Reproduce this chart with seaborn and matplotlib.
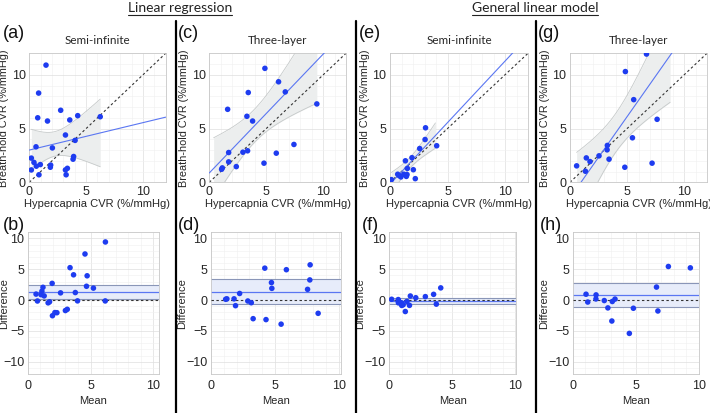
import numpy as np
import pandas as pd
import matplotlib
matplotlib.use("Agg")
import matplotlib.pyplot as plt
from matplotlib.lines import Line2D
from matplotlib.ticker import MultipleLocator, FixedLocator
import seaborn as sns

# ---------------- data ----------------
# hypercapnia CVR (x) and breath-hold CVR (y), %/mmHg
a_hc = [1.47, 0.82, 0.74, 1.60, 2.76, 3.56, 4.26, 6.24, 3.18, 4.03, 0.59, 2.03, 0.18,
        0.41, 0.62, 0.97, 1.88, 1.85, 3.90, 3.85, 3.18, 3.35, 3.24, 0.85, 0.18]
a_bh = [10.9, 8.3, 6.0, 5.7, 6.7, 5.8, 6.2, 6.1, 4.4, 3.9, 3.3, 3.2, 2.25,
        1.85, 1.5, 1.65, 1.6, 1.4, 2.4, 2.15, 1.15, 1.3, 0.7, 0.7, 1.15]

c_hc = [4.88, 6.08, 3.42, 6.67, 1.61, 9.44, 3.30, 3.80, 7.43, 5.88, 1.70, 2.95,
        3.36, 1.70, 2.37, 4.80, 1.14, 1.08]
c_bh = [10.6, 9.35, 8.35, 8.41, 6.79, 7.29, 6.14, 5.70, 3.52, 2.71, 2.77, 2.80,
        2.93, 1.90, 1.46, 1.78, 1.34, 1.21]

e_hc = [0.12, 0.67, 0.80, 0.95, 1.20, 1.42, 1.48, 2.20, 1.51, 2.03, 1.34, 1.91,
        2.58, 3.05, 4.06, 3.09]
e_bh = [0.25, 0.75, 0.62, 0.50, 0.75, 0.55, 0.72, 0.34, 1.29, 1.17, 2.00, 2.29,
        3.14, 3.98, 3.40, 5.07]

g_hc = [6.70, 4.85, 5.58, 7.63, 5.47, 3.27, 3.25, 2.54, 3.42, 1.43, 1.75, 0.58,
        1.35, 4.80, 7.19]
g_bh = [11.93, 10.3, 7.69, 5.86, 4.14, 3.43, 3.02, 2.46, 2.15, 2.27, 1.93, 1.53,
        1.03, 1.40, 1.78]

titles = ["Semi-infinite", "Three-layer", "Semi-infinite", "Three-layer"]
top_labels = ["(a)", "(c)", "(e)", "(g)"]
bottom_labels = ["(b)", "(d)", "(f)", "(h)"]
headers = ["Linear regression", "General linear model"]

# fitted lines (intercept, slope) and x-range of their confidence bands
fit_intercept = [3.0, 0.87, -0.17, -1.45]
fit_slope = [0.255, 1.106, 1.144, 1.511]
band_lo_x = [0.18, 0.38, 0.12, 0.58]
band_hi_x = [6.24, 9.44, 3.95, 8.77]

# Bland-Altman: bias and its confidence interval
ba_bias = [1.25, 1.35, -0.10, 0.75]
ba_lo = [0.10, -0.60, -0.60, -1.20]
ba_hi = [2.45, 3.35, 0.30, 2.80]
ba_xmax = [10.45, 10.15, 10.05, 10.0]

hc_sets = [a_hc, c_hc, e_hc, g_hc]
bh_sets = [a_bh, c_bh, e_bh, g_bh]

# ---------------- style ----------------
sns.set_theme(style="white")
plt.rcParams['font.family'] = ['Liberation Sans', 'DejaVu Sans']
plt.rcParams['axes.unicode_minus'] = True

W, H = 710, 413
fig = plt.figure(figsize=(W / 100, H / 100), dpi=100)

PT_BLUE = '#1e3cf0'
LINE_BLUE = '#5a76f2'
TXT = '#262626'

def px_rect(l, t, r, b):
    return [l / W, 1 - b / H, (r - l) / W, (b - t) / H]

top_rects = [px_rect(29.3, 53.3, 165.7, 182.3), px_rect(209.3, 53.3, 346.0, 182.3),
             px_rect(390.0, 53.3, 528.0, 182.3), px_rect(570.0, 53.3, 707.0, 182.3)]
bot_rects = [px_rect(27.7, 232.3, 159.0, 374.0), px_rect(211.0, 232.3, 341.0, 374.0),
             px_rect(389.3, 232.3, 516.0, 374.0), px_rect(572.7, 232.3, 699.0, 374.0)]

def style_axes(ax):
    for sp in ax.spines.values():
        sp.set_color('#c8c8c8')
        sp.set_linewidth(0.6)
    ax.tick_params(length=0, labelsize=9, pad=2.5, colors=TXT)
    ax.grid(True, which='major', color='#dedede', lw=0.5)
    ax.grid(True, which='minor', color='#f0f0f0', lw=0.4)
    ax.set_axisbelow(True)

t_val = 2.1
for i in range(4):
    hc = np.array(hc_sets[i]); bh = np.array(bh_sets[i])
    df = pd.DataFrame({'hc': hc, 'bh': bh})

    # ---------- top: scatter with fit ----------
    ax = fig.add_axes(top_rects[i])
    ax.set_xlim(0, 12); ax.set_ylim(0, 12)
    ax.xaxis.set_major_locator(FixedLocator([0, 5, 10]))
    ax.yaxis.set_major_locator(FixedLocator([0, 5, 10]))
    ax.xaxis.set_minor_locator(MultipleLocator(1))
    ax.yaxis.set_minor_locator(MultipleLocator(1))
    style_axes(ax)

    b0, b1 = fit_intercept[i], fit_slope[i]
    n = len(hc)
    resid = bh - (b0 + b1 * hc)
    s = np.sqrt(np.sum(resid ** 2) / (n - 2))
    xbar = hc.mean(); sxx = np.sum((hc - xbar) ** 2)
    xb = np.linspace(band_lo_x[i], band_hi_x[i], 200)
    yb = b0 + b1 * xb
    hw = t_val * s * np.sqrt(1.0 / n + (xb - xbar) ** 2 / sxx)
    ax.fill_between(xb, yb - hw, yb + hw, color='#eceeee', lw=0, zorder=1)
    ax.plot(xb, yb - hw, color='#c6caca', lw=0.6, zorder=1.5)
    ax.plot(xb, yb + hw, color='#c6caca', lw=0.6, zorder=1.5)

    ax.plot([0, 12], [0, 12], color='#333333', lw=0.8, ls=(0, (2.2, 2.2)), zorder=2)
    xl = np.linspace(0, 12, 50)
    ax.plot(xl, b0 + b1 * xl, color=LINE_BLUE, lw=0.8, zorder=3)

    sns.scatterplot(data=df, x='hc', y='bh', ax=ax, color=PT_BLUE, s=16,
                    edgecolor='none', linewidth=0, zorder=4, legend=False, clip_on=True)
    ax.set_xlabel("Hypercapnia CVR (%/mmHg)", fontsize=8, color=TXT, labelpad=1)
    ax.set_ylabel("Breath-hold CVR (%/mmHg)", fontsize=7.8, color=TXT)
    ax.yaxis.set_label_coords(-20 / (top_rects[i][2] * W), 0.5)
    ax.set_title(titles[i], fontsize=8.4, family=['Lato', 'DejaVu Sans'], color=TXT, pad=7)

    # ---------- bottom: Bland-Altman ----------
    bx = fig.add_axes(bot_rects[i])
    ba = pd.DataFrame({'mean': (hc + bh) / 2.0, 'diff': bh - hc})
    bx.set_xlim(0, ba_xmax[i]); bx.set_ylim(-12, 11)
    bx.xaxis.set_major_locator(FixedLocator([0, 5, 10]))
    bx.yaxis.set_major_locator(FixedLocator([-10, -5, 0, 5, 10]))
    bx.xaxis.set_minor_locator(MultipleLocator(1))
    bx.yaxis.set_minor_locator(MultipleLocator(1))
    style_axes(bx)
    bx.axhspan(ba_lo[i], ba_hi[i], color='#e7ecfa', lw=0, zorder=1)
    bx.axhline(ba_lo[i], color='#8a96b8', lw=0.8, zorder=2)
    bx.axhline(ba_hi[i], color='#8a96b8', lw=0.8, zorder=2)
    bx.axhline(ba_bias[i], color=LINE_BLUE, lw=0.9, zorder=2.5)
    bx.axhline(0, color='#333333', lw=0.8, ls=(0, (2.2, 2.2)), zorder=3)
    sns.scatterplot(data=ba, x='mean', y='diff', ax=bx, color=PT_BLUE, s=16,
                    edgecolor='none', linewidth=0, zorder=4, legend=False)
    bx.set_xlabel("Mean", fontsize=8, color=TXT, labelpad=3)
    bx.set_ylabel("Difference", fontsize=8, color=TXT)
    off = 19 if i == 0 else 24
    bx.yaxis.set_label_coords(-off / (bot_rects[i][2] * W), 0.5)
    bx.tick_params(axis='x', pad=4)

# ---------------- panel letters ----------------
top_lx = [3, 178, 359, 538]
bot_lx = [3, 178, 362, 540]
for i in range(4):
    fig.text(top_lx[i] / W, 1 - 34 / H, top_labels[i], fontsize=13, ha='left', va='center', color='#111111')
    fig.text(bot_lx[i] / W, 1 - 225 / H, bottom_labels[i], fontsize=13, ha='left', va='center', color='#111111')

# ---------------- headers with underline ----------------
hdr_x = [180, 535]
fig.canvas.draw()
r = fig.canvas.get_renderer()
for hx, txt in zip(hdr_x, headers):
    t = fig.text(hx / W, 1 - 8.5 / H, txt, fontsize=10, family=['Lato', 'DejaVu Sans'],
                 ha='center', va='center', color='#222222')
    bb = t.get_window_extent(renderer=r)
    fig.add_artist(Line2D([bb.x0 / W, bb.x1 / W], [1 - 15 / H, 1 - 15 / H],
                          transform=fig.transFigure, color='#222222', lw=0.8))

# ---------------- separators ----------------
for sx in [176, 356, 536]:
    fig.add_artist(Line2D([sx / W, sx / W], [0, 1 - 21 / H], transform=fig.transFigure,
                          color='black', lw=1.6))

fig.savefig("out.png", dpi=100)
